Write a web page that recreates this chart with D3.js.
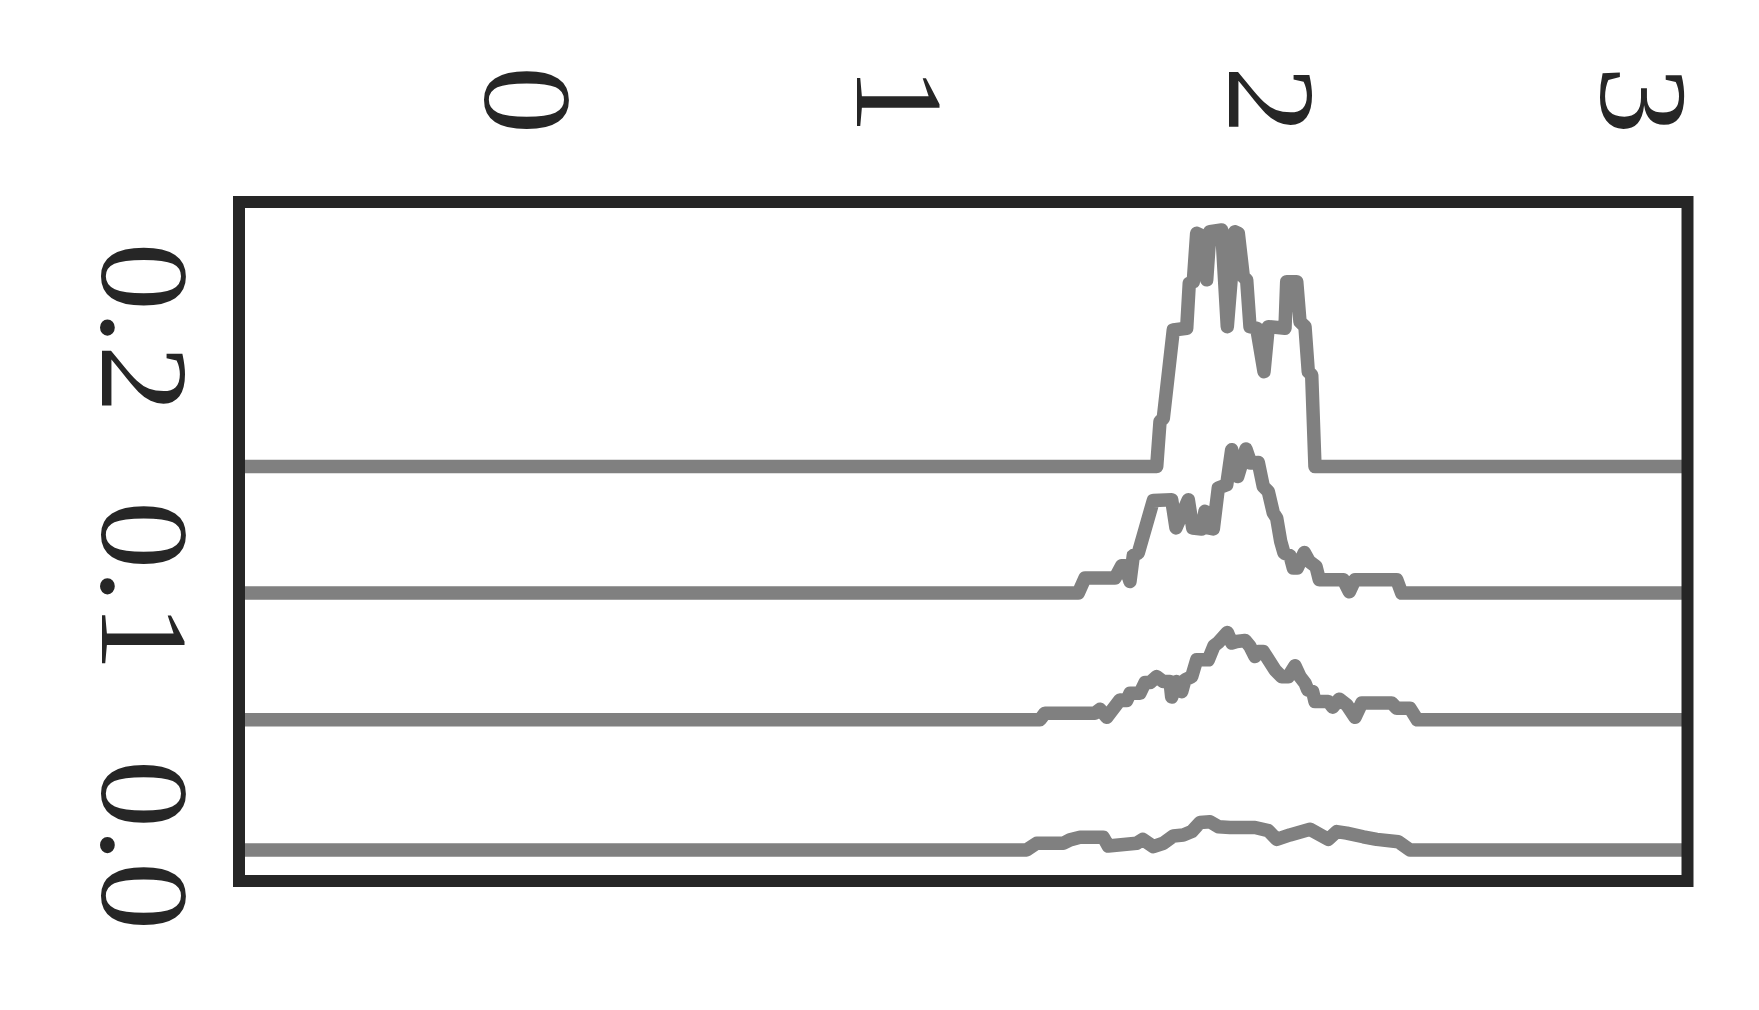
<!DOCTYPE html>
<html>
<head>
<meta charset="utf-8">
<script src="https://cdn.jsdelivr.net/npm/d3@7/dist/d3.min.js"></script>
<style>
  html, body { margin: 0; padding: 0; background: #ffffff; }
  svg { display: block; }
</style>
</head>
<body>
<svg id="chart" width="1759" height="1010"></svg>
<script>
// ---------- data ----------
const xTicks = [0, 1, 2, 3];
const xTickLabels = ["0", "1", "2", "3"];
const yTicks = [0.0, 0.1, 0.2];
const yTickLabels = ["0.0", "0.1", "0.2"];
const xDomain = [-0.7696, 3.1242];
const yDomain = [-0.012, 0.2505];

// vertical offsets of the four ridgelines
const offsets = [0, 0.0503, 0.0993, 0.1482];

const series1X = [1.3478, 1.3747, 1.4462, 1.4642, 1.4911, 1.5538, 1.5672, 1.6435, 1.6597, 1.6882, 1.7151, 1.7419, 1.7688, 1.7914, 1.8137, 1.8406, 1.8629, 1.8944, 1.9616, 1.9973, 2.0199, 2.0556, 2.1094, 2.1586, 2.1812, 2.2081, 2.2527, 2.2887, 2.3468, 2.3782];
const series1Y = [0, 0.0026, 0.0026, 0.0039, 0.0049, 0.0049, 0.0015, 0.0026, 0.0041, 0.0013, 0.0026, 0.0054, 0.0058, 0.0071, 0.0106, 0.0109, 0.009, 0.0087, 0.0087, 0.0075, 0.0041, 0.0058, 0.008, 0.0041, 0.0071, 0.0065, 0.0051, 0.0041, 0.0032, 0];

const series2X = [1.3836, 1.397, 1.5315, 1.5449, 1.5629, 1.5987, 1.6167, 1.6255, 1.6524, 1.6659, 1.6793, 1.6973, 1.7151, 1.7331, 1.7376, 1.7511, 1.7645, 1.7734, 1.7914, 1.8048, 1.836, 1.8513, 1.8629, 1.8871, 1.8989, 1.9124, 1.9347, 1.9481, 1.9616, 1.9704, 1.9839, 2.0153, 2.0333, 2.0511, 2.0691, 2.0825, 2.0960, 2.1032, 2.1167, 2.1228, 2.1586, 2.1704, 2.1882, 2.2081, 2.2304, 2.2484, 2.3290, 2.3425, 2.3782, 2.3978];
const series2Y = [0, 0.0026, 0.0026, 0.0041, 0.001, 0.0077, 0.0075, 0.0103, 0.0103, 0.0144, 0.0144, 0.0167, 0.0148, 0.0148, 0.0088, 0.0148, 0.0109, 0.0155, 0.0167, 0.0232, 0.0232, 0.0286, 0.0299, 0.0338, 0.0297, 0.0303, 0.0307, 0.0284, 0.0245, 0.0264, 0.0264, 0.0193, 0.0167, 0.0167, 0.0209, 0.0167, 0.0142, 0.0116, 0.0109, 0.0071, 0.0071, 0.0049, 0.008, 0.0058, 0.001, 0.0065, 0.0065, 0.0045, 0.0045, 0];

const series3X = [1.4866, 1.5046, 1.5852, 1.6032, 1.6121, 1.6255, 1.6344, 1.6478, 1.6882, 1.7376, 1.7492, 1.7823, 1.7941, 1.8183, 1.8272, 1.836, 1.8495, 1.8629, 1.8855, 1.8989, 1.9151, 1.9374, 1.95, 1.9704, 1.9839, 1.9973, 2.0108, 2.0199, 2.0306, 2.0395, 2.0556, 2.0645, 2.0753, 2.0941, 2.1075, 2.1255, 2.1344, 2.1989, 2.2151, 2.2304, 2.3425, 2.3559];
const series3Y = [0, 0.0058, 0.0058, 0.0106, 0.0106, 0.0045, 0.0145, 0.0155, 0.0358, 0.0361, 0.0252, 0.0361, 0.0252, 0.0248, 0.0316, 0.0252, 0.0248, 0.0406, 0.0419, 0.0554, 0.0451, 0.0557, 0.0503, 0.0505, 0.0412, 0.0393, 0.031, 0.029, 0.02, 0.0155, 0.0145, 0.0097, 0.0097, 0.0157, 0.0122, 0.0103, 0.0052, 0.0052, 0.0005, 0.0052, 0.0052, 0];

const series4X = [1.6973, 1.7062, 1.7151, 1.7419, 1.7780, 1.7849, 1.7957, 1.8048, 1.8137, 1.8317, 1.8406, 1.8720, 1.8871, 1.9078, 1.9167, 1.9301, 1.9392, 1.9481, 1.9661, 1.9858, 1.9973, 2.0422, 2.0468, 2.0737, 2.0825, 2.0960, 2.1048, 2.1140, 2.1228];
const series4Y = [0, 0.0174, 0.0187, 0.0528, 0.0535, 0.0709, 0.0715, 0.0902, 0.0896, 0.0722, 0.0908, 0.0915, 0.0541, 0.0908, 0.0902, 0.0734, 0.0722, 0.0541, 0.0535, 0.0367, 0.0541, 0.0535, 0.0715, 0.0715, 0.056, 0.0541, 0.0367, 0.0354, 0];

const seriesX = [series1X, series2X, series3X, series4X];
const seriesY = [series1Y, series2Y, series3Y, series4Y];

// ---------- layout ----------
const frame = { left: 239, right: 1687.5, top: 202, bottom: 881 };
const lineColor = "#808080";
const inkColor = "#262626";
const fontFamily = "'Liberation Serif', 'Times New Roman', serif";
const fontSize = 124;
const stretch = 1.1;

const svg = d3.select("#chart");

const x = d3.scaleLinear().domain(xDomain).range([frame.left, frame.right]);
const y = d3.scaleLinear().domain(yDomain).range([frame.bottom, frame.top]);

svg.append("defs").append("clipPath").attr("id", "plotClip")
  .append("rect")
  .attr("x", frame.left).attr("y", frame.top)
  .attr("width", frame.right - frame.left)
  .attr("height", frame.bottom - frame.top);

const line = d3.line().x(d => x(d[0])).y(d => y(d[1])).curve(d3.curveLinear);

const plot = svg.append("g").attr("clip-path", "url(#plotClip)");

seriesX.forEach((xs, i) => {
  const pts = [[xDomain[0], offsets[i]]];
  xs.forEach((xv, j) => pts.push([xv, offsets[i] + seriesY[i][j]]));
  pts.push([xDomain[1], offsets[i]]);
  plot.append("path")
    .datum(pts)
    .attr("d", line)
    .attr("fill", "none")
    .attr("stroke", lineColor)
    .attr("stroke-width", 13.5)
    .attr("stroke-linejoin", "round")
    .attr("stroke-linecap", "round");
});

// frame
svg.append("rect")
  .attr("x", frame.left).attr("y", frame.top)
  .attr("width", frame.right - frame.left)
  .attr("height", frame.bottom - frame.top)
  .attr("fill", "none")
  .attr("stroke", inkColor)
  .attr("stroke-width", 12);

// top x tick labels (rotated 90deg clockwise)
const xAxisG = svg.append("g");
xTicks.forEach((t, i) => {
  xAxisG.append("text")
    .attr("transform", `translate(${x(t) - 40},100) rotate(90) scale(${stretch},1)`)
    .attr("text-anchor", "middle")
    .attr("font-family", fontFamily)
    .attr("font-size", fontSize)
    .attr("fill", inkColor)
    .text(xTickLabels[i]);
});

// left y tick labels (rotated 90deg clockwise)
const yAxisG = svg.append("g");
yTicks.forEach((t, i) => {
  yAxisG.append("text")
    .attr("transform", `translate(102,${y(t) - 5}) rotate(90) scale(${stretch},1)`)
    .attr("text-anchor", "middle")
    .attr("font-family", fontFamily)
    .attr("font-size", fontSize)
    .attr("fill", inkColor)
    .text(yTickLabels[i]);
});
</script>
</body>
</html>
